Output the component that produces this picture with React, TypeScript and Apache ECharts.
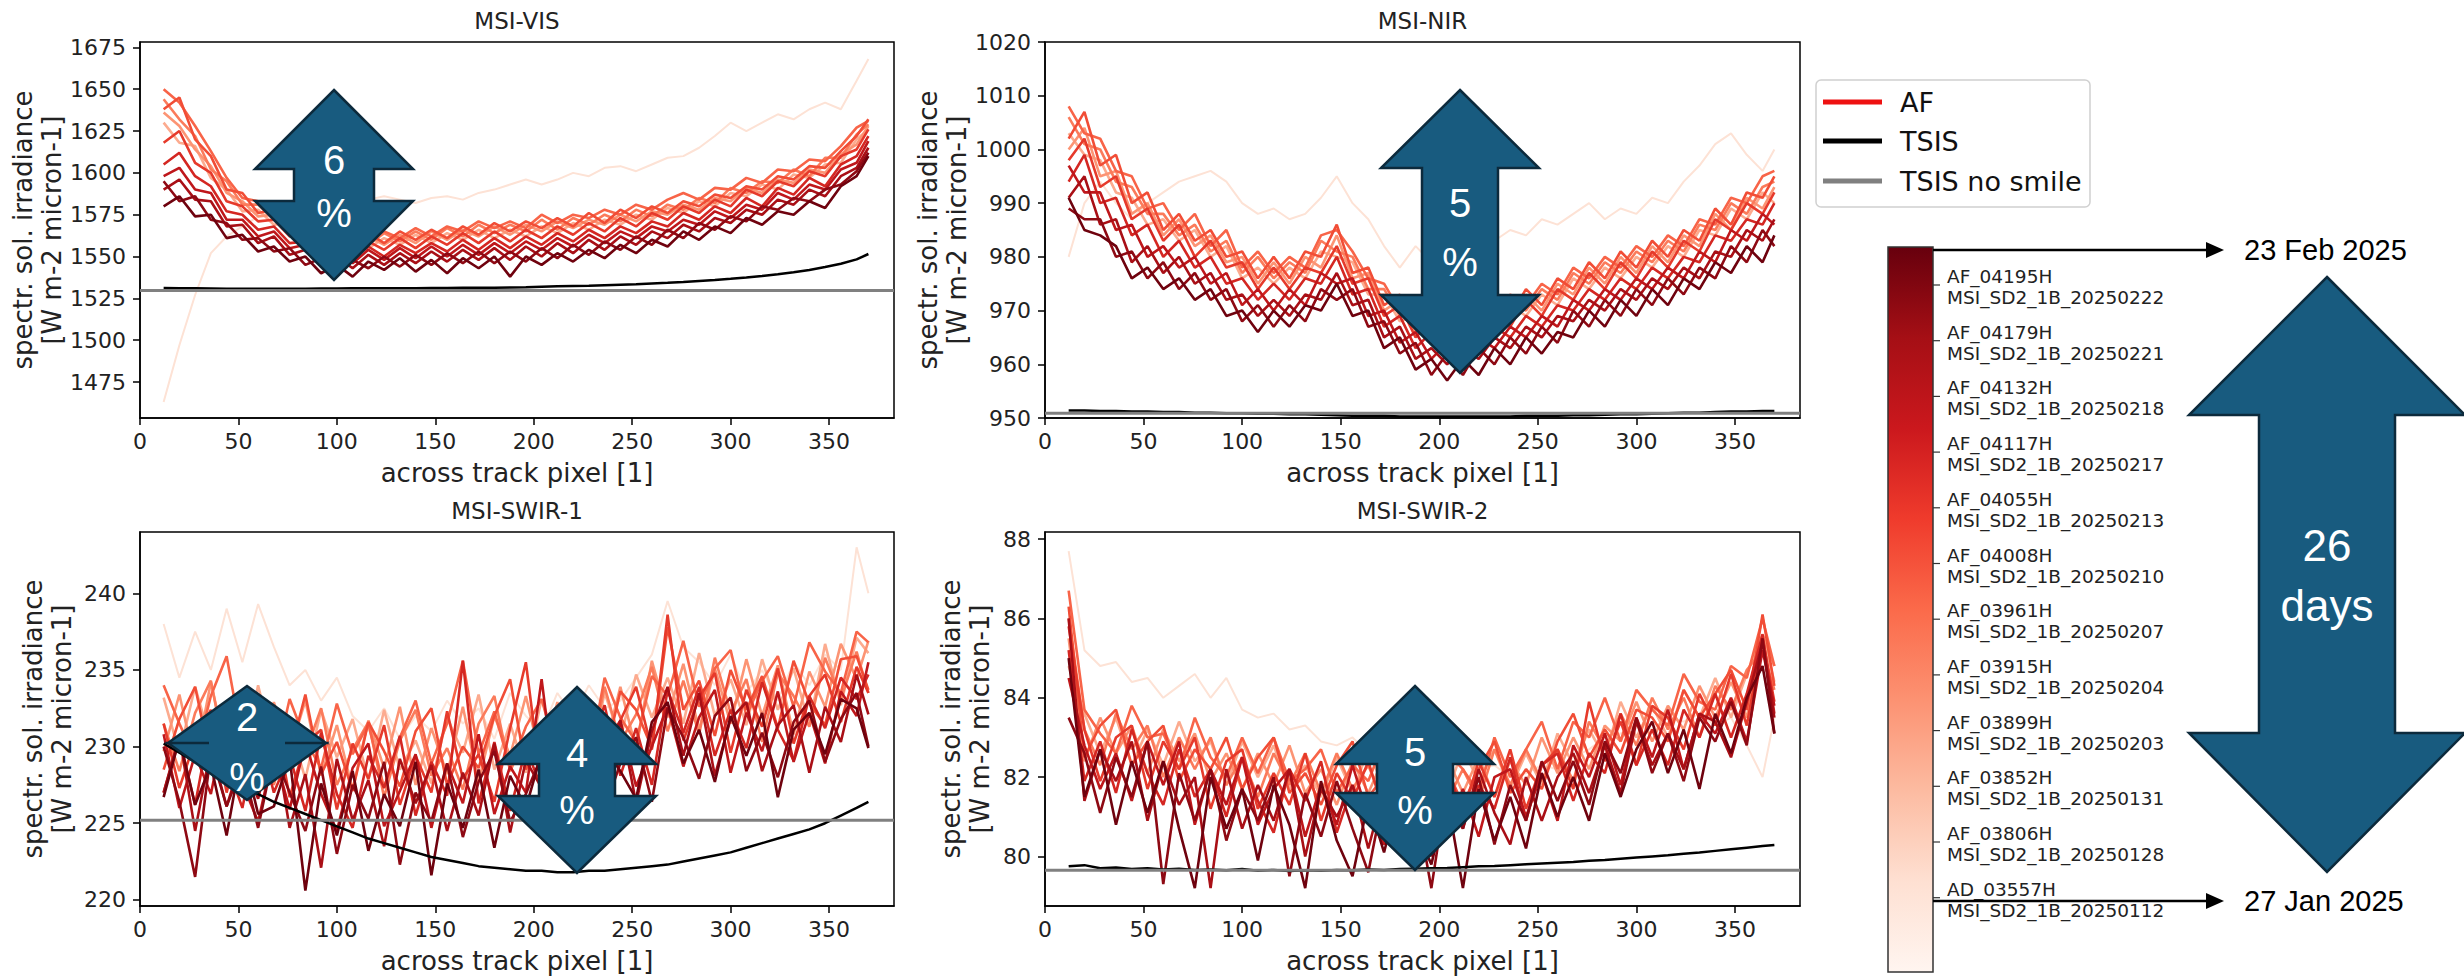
import React, { useEffect, useRef } from "react";
import * as echarts from "echarts";

// ---------------- data ----------------
const X_PIXELS = [12,20,28,36,44,52,60,68,76,84,92,100,108,116,124,132,140,148,156,164,172,180,188,196,204,212,220,228,236,244,252,260,268,276,284,292,300,308,316,324,332,340,348,356,364,370];
const X_TICKS = [0,50,100,150,200,250,300,350];

const RUN_IDS = ["AD_03557H","AF_03806H","AF_03852H","AF_03899H","AF_03915H","AF_03961H","AF_04008H","AF_04055H","AF_04117H","AF_04132H","AF_04179H","AF_04195H"];
const RUN_FILES = ["MSI_SD2_1B_20250112","MSI_SD2_1B_20250128","MSI_SD2_1B_20250131","MSI_SD2_1B_20250203","MSI_SD2_1B_20250204","MSI_SD2_1B_20250207","MSI_SD2_1B_20250210","MSI_SD2_1B_20250213","MSI_SD2_1B_20250217","MSI_SD2_1B_20250218","MSI_SD2_1B_20250221","MSI_SD2_1B_20250222"];
const RUN_COLORS = ["#fde2d5","#fcab8f","#fc9474","#fb7b5b","#f86448","#f14d36","#e63a2b","#d42722","#bf171b","#a90f16","#8e0913","#6f020e"];

// MSI-VIS
const VIS_Y_TICKS = [1475,1500,1525,1550,1575,1600,1625,1650,1675];
const VIS_AF = [
  [1463,1497,1527,1552,1562,1568,1574,1578,1582,1584,1586,1587,1585,1584,1586,1584,1582,1585,1586,1584,1588,1590,1593,1596,1593,1596,1600,1598,1603,1604,1601,1605,1609,1610,1615,1622,1630,1625,1630,1635,1632,1638,1642,1638,1655,1668],
  [1630,1618,1616,1597,1590,1577,1578,1569,1570,1560,1562,1554,1559,1555,1561,1557,1563,1558,1564,1560,1566,1561,1566,1562,1568,1564,1570,1566,1572,1569,1575,1572,1579,1576,1583,1580,1588,1586,1593,1590,1599,1597,1605,1606,1620,1626],
  [1636,1628,1614,1604,1588,1583,1574,1575,1566,1566,1558,1561,1555,1562,1557,1563,1558,1565,1560,1566,1562,1568,1563,1569,1565,1571,1567,1572,1569,1575,1571,1577,1575,1581,1578,1585,1583,1591,1588,1596,1594,1602,1600,1611,1617,1628],
  [1644,1632,1622,1602,1595,1581,1581,1572,1572,1562,1565,1557,1562,1557,1564,1559,1565,1560,1567,1562,1569,1564,1569,1565,1572,1566,1573,1569,1575,1571,1578,1574,1581,1578,1585,1582,1591,1588,1595,1594,1602,1598,1609,1609,1623,1629],
  [1650,1642,1628,1613,1597,1585,1583,1574,1575,1566,1566,1559,1564,1560,1565,1561,1567,1562,1568,1565,1571,1567,1571,1567,1575,1570,1575,1573,1578,1575,1581,1578,1584,1588,1584,1591,1590,1597,1594,1602,1601,1608,1607,1616,1627,1631],
  [1638,1645,1620,1610,1590,1588,1576,1578,1568,1568,1560,1563,1556,1564,1558,1565,1560,1566,1561,1568,1563,1570,1565,1571,1567,1573,1568,1576,1570,1578,1573,1580,1576,1583,1580,1587,1585,1592,1590,1598,1596,1604,1603,1613,1622,1632],
  [1618,1625,1606,1600,1583,1580,1571,1572,1562,1563,1555,1559,1552,1559,1554,1561,1555,1562,1557,1564,1558,1565,1559,1566,1561,1568,1563,1570,1565,1573,1568,1576,1572,1580,1576,1584,1580,1590,1586,1595,1592,1601,1598,1610,1614,1626],
  [1605,1612,1598,1592,1577,1575,1566,1568,1558,1559,1550,1555,1548,1556,1550,1557,1552,1558,1553,1560,1554,1561,1555,1562,1557,1564,1559,1566,1561,1568,1564,1571,1568,1576,1572,1580,1576,1585,1580,1591,1587,1597,1592,1605,1610,1622],
  [1598,1603,1590,1588,1572,1572,1562,1565,1555,1557,1547,1553,1546,1554,1548,1555,1549,1556,1550,1557,1551,1558,1552,1559,1554,1561,1556,1563,1558,1565,1561,1568,1565,1572,1569,1577,1573,1581,1578,1588,1584,1593,1590,1602,1606,1619],
  [1590,1596,1584,1583,1568,1569,1558,1562,1551,1554,1544,1550,1543,1551,1545,1552,1546,1553,1547,1554,1548,1555,1548,1556,1550,1558,1552,1560,1554,1562,1557,1565,1561,1569,1565,1573,1570,1578,1575,1584,1581,1590,1586,1598,1603,1615],
  [1595,1583,1586,1572,1570,1560,1561,1553,1555,1545,1549,1541,1548,1543,1550,1544,1551,1545,1552,1546,1553,1546,1553,1547,1555,1549,1557,1551,1559,1554,1562,1557,1566,1561,1570,1566,1574,1571,1580,1578,1585,1583,1590,1593,1601,1612],
  [1580,1586,1574,1575,1561,1563,1553,1556,1547,1550,1540,1545,1538,1547,1542,1549,1541,1548,1540,1549,1543,1550,1538,1550,1545,1552,1547,1554,1549,1557,1552,1560,1556,1565,1560,1568,1564,1573,1569,1577,1575,1583,1579,1592,1598,1610]
];
const VIS_TSIS = [1531.2,1531.1,1531.0,1530.9,1530.8,1530.8,1530.8,1530.8,1530.8,1530.8,1530.9,1530.9,1531.0,1531.0,1531.0,1531.1,1531.1,1531.2,1531.2,1531.3,1531.3,1531.4,1531.5,1531.7,1532.0,1532.2,1532.4,1532.6,1532.9,1533.2,1533.5,1533.9,1534.3,1534.8,1535.4,1536.0,1536.7,1537.5,1538.4,1539.4,1540.6,1542.0,1543.7,1545.7,1548.3,1551.5];
const VIS_NO_SMILE = 1529.7;

// MSI-NIR
const NIR_Y_TICKS = [950,960,970,980,990,1000,1010,1020];
const NIR_AF = [
  [980,990,994,990,987,990,992,994,995,996,994,990,988,989,987,988,991,995,990,987,982,978,982,979,977,975,976,983,985,984,987,986,988,990,987,989,988,991,990,994,997,1001,1003,999,996,1000],
  [1003,999,998,992,991,986,987,983,985,980,982,976,978,975,978,976,981,980,979,973,973,968,969,965,968,965,969,967,971,969,973,971,976,974,978,976,980,978,982,980,985,984,989,987,992,990],
  [1000,1004,995,996,988,990,984,987,982,984,979,980,975,979,975,980,978,984,976,977,970,972,966,969,965,969,966,971,968,973,970,975,973,978,975,980,977,982,979,984,982,988,985,991,989,993],
  [1006,1001,1000,994,993,988,988,984,986,981,983,977,980,976,979,977,983,981,980,974,974,969,970,966,969,966,970,968,972,970,974,972,977,975,979,977,981,979,983,981,986,985,990,988,993,994],
  [1008,1003,1002,996,995,989,990,985,988,982,985,978,981,977,980,978,984,985,981,976,975,970,971,967,970,967,971,969,973,971,975,973,978,976,980,978,982,980,984,982,987,986,991,990,995,996],
  [1002,1007,997,999,990,992,985,988,983,985,980,981,976,980,976,981,980,986,977,978,971,973,967,970,966,970,967,972,969,974,971,976,974,979,976,981,978,983,980,985,983,989,986,992,991,995],
  [998,1002,993,995,987,989,983,986,980,983,978,979,974,978,974,978,977,982,975,976,969,971,965,968,964,968,965,970,967,972,969,974,972,977,974,979,976,981,978,983,981,987,985,990,988,992],
  [994,999,990,991,984,986,980,983,978,980,975,976,972,975,972,976,975,980,973,974,967,969,963,966,962,966,963,967,965,969,967,971,970,974,972,976,974,978,976,980,979,984,983,987,986,990],
  [997,992,992,985,986,980,982,978,980,975,977,971,974,970,974,971,977,975,976,969,970,964,966,961,964,961,965,963,967,965,969,967,972,970,974,972,976,974,978,976,981,979,985,983,988,986],
  [991,995,986,987,979,982,977,980,975,977,972,973,969,972,969,973,972,977,971,972,965,967,961,963,960,963,961,965,963,967,965,969,968,972,970,974,972,976,974,978,976,981,980,985,983,987],
  [989,987,987,980,981,976,979,974,977,972,974,968,971,967,971,968,974,972,974,967,968,962,964,958,962,958,963,960,965,962,967,964,970,967,972,969,974,971,976,973,978,976,982,979,985,982],
  [991,985,984,982,976,978,974,976,972,974,969,970,966,970,967,971,970,975,969,970,963,965,959,961,957,961,958,963,960,965,962,966,965,970,967,972,969,974,971,976,974,979,977,982,979,984]
];
const NIR_TSIS = [951.4,951.4,951.3,951.3,951.2,951.2,951.1,951.1,951.0,951.0,950.9,950.9,950.8,950.8,950.7,950.7,950.6,950.5,950.4,950.4,950.4,950.3,950.3,950.3,950.3,950.3,950.3,950.3,950.3,950.4,950.4,950.4,950.5,950.5,950.6,950.7,950.7,950.8,950.9,951.0,951.0,951.1,951.2,951.2,951.3,951.3];
const NIR_NO_SMILE = 950.9;

// MSI-SWIR-1
const SWIR1_Y_TICKS = [220,225,230,235,240];
const SWIR1_AF = [
  [238.0,234.5,237.5,235.0,239.0,235.5,239.3,236.5,234.0,235.0,233.0,234.5,232.0,231.0,232.5,230.5,232.0,231.0,233.0,231.5,232.5,230.5,233.5,232.0,231.0,233.5,232.0,234.0,232.5,233.0,234.5,236.0,239.5,236.5,235.5,234.0,236.0,233.5,235.0,233.0,235.5,234.0,236.0,235.0,243.0,240.0],
  [233.2,229.6,233.9,230.3,232.9,228.9,234.0,229.7,231.4,227.9,232.4,229.3,231.8,227.8,232.4,228.5,230.4,227.6,231.9,229.6,233.4,228.5,231.5,228.3,233.1,230.1,232.6,228.7,233.5,230.5,234.7,231.9,234.5,231.5,236.1,232.0,234.4,231.4,235.7,232.4,235.1,231.4,236.7,232.7,237.1,236.1],
  [229.7,233.4,228.9,234.2,229.6,232.8,228.2,232.9,229.6,233.0,228.1,231.4,227.2,231.7,228.6,232.6,227.5,231.2,228.2,232.6,227.7,232.0,229.4,233.3,228.9,232.9,228.1,232.2,229.8,233.9,229.8,235.6,231.9,235.4,231.1,235.1,231.5,235.7,232.0,235.3,230.8,234.9,232.6,236.7,234.4,236.9],
  [231.5,228.4,232.2,234.3,229.0,231.3,233.0,227.5,231.4,229.6,232.5,227.5,229.8,231.6,226.7,230.4,232.4,228.1,229.9,227.2,231.5,233.3,228.4,230.6,228.1,232.5,231.4,228.9,233.9,230.3,232.1,235.2,231.0,234.3,230.8,235.8,232.2,234.4,230.3,234.8,233.3,231.3,235.8,233.1,236.2,233.5],
  [234.0,231.5,229.2,233.3,235.9,230.2,232.3,228.6,233.1,230.4,228.6,232.8,229.5,231.5,227.3,230.6,233.0,228.9,231.5,235.6,229.5,232.3,228.6,231.3,233.1,229.4,232.1,229.0,234.5,231.9,230.3,234.6,233.3,236.9,232.6,235.1,236.3,232.0,234.3,235.9,232.6,236.8,234.9,233.5,237.5,236.8],
  [228.5,231.8,233.9,229.0,231.3,233.4,228.1,231.3,229.4,233.4,228.2,230.3,227.1,231.6,229.7,227.4,231.0,232.5,227.5,230.0,228.6,232.0,234.4,228.5,230.9,227.9,232.4,230.8,229.2,233.6,232.4,229.9,237.8,232.4,234.3,230.7,235.0,232.4,234.6,231.2,235.6,232.8,231.4,235.7,235.9,233.7],
  [231.5,227.3,230.4,232.4,227.0,231.2,229.4,232.3,226.7,230.2,231.1,225.9,230.2,227.9,231.4,226.2,229.4,227.0,232.3,227.9,229.5,226.4,231.2,235.5,227.4,230.3,228.4,232.6,227.7,231.7,233.9,229.8,238.6,230.4,233.2,234.8,229.6,233.7,231.3,235.1,230.2,233.3,234.7,231.6,235.2,233.5],
  [227.0,230.5,226.2,231.7,228.9,226.0,231.0,227.0,229.4,225.8,230.9,226.9,224.7,229.4,227.3,230.7,225.5,229.0,226.8,235.6,226.3,230.3,225.8,229.9,227.3,231.9,226.6,229.9,232.7,228.1,231.2,227.5,233.7,230.9,233.9,229.4,232.4,229.9,234.2,231.1,229.1,233.3,231.2,234.5,233.1,234.7],
  [230.8,226.0,229.5,226.9,232.0,227.6,225.1,229.7,225.9,230.3,226.9,224.5,228.6,230.2,224.8,227.1,229.5,224.7,228.9,226.3,230.8,225.6,228.7,227.0,234.4,226.2,230.3,226.2,230.0,231.7,227.4,230.0,232.6,228.7,231.9,233.7,228.3,232.2,229.7,233.6,229.0,232.2,228.9,233.6,232.0,235.5],
  [227.0,230.7,224.5,229.9,226.1,229.4,226.6,230.9,224.7,228.2,222.1,229.2,225.2,227.8,223.5,229.2,226.3,228.8,224.5,228.3,225.5,230.2,224.4,229.1,227.3,231.2,225.9,229.2,227.0,231.7,226.3,231.0,233.9,229.4,233.5,228.1,231.8,232.9,228.4,231.4,232.7,228.3,232.6,230.3,234.7,232.1],
  [230.0,226.4,221.5,229.6,226.1,228.8,224.7,229.6,227.0,224.5,228.7,223.0,227.5,225.3,229.0,222.3,227.0,225.1,228.9,224.1,227.7,229.7,225.1,226.9,229.4,224.4,228.9,230.2,225.9,228.9,230.6,226.4,232.5,230.6,227.9,232.0,233.2,228.4,230.9,228.0,231.6,233.0,229.0,231.8,233.5,230.0],
  [226.7,230.5,226.2,228.8,224.2,229.9,225.6,226.1,229.3,220.6,227.6,224.2,228.4,223.2,226.9,224.8,229.0,221.6,227.6,224.7,228.5,223.4,228.1,226.0,229.6,224.7,228.1,223.7,229.9,228.4,226.6,231.6,232.9,228.9,231.1,227.7,232.0,229.4,232.2,226.7,231.1,232.2,229.5,233.1,232.5,229.9]
];
const SWIR1_TSIS = [230.2,229.6,229.0,228.5,227.9,227.4,226.9,226.4,226.0,225.6,225.2,224.8,224.4,224.0,223.7,223.4,223.1,222.8,222.6,222.4,222.2,222.1,222.0,221.9,221.9,221.8,221.8,221.9,221.9,222.0,222.1,222.2,222.3,222.5,222.7,222.9,223.1,223.4,223.7,224.0,224.3,224.6,225.0,225.5,226.0,226.4];
const SWIR1_NO_SMILE = 225.2;

// MSI-SWIR-2
const SWIR2_Y_TICKS = [80,82,84,86,88];
const SWIR2_AF = [
  [87.7,85.2,84.8,84.9,84.4,84.5,84.0,84.3,84.6,84.0,84.5,83.7,83.5,83.6,83.2,83.3,82.9,82.8,83.0,82.6,82.7,82.5,82.7,82.4,82.3,82.5,82.2,82.3,82.0,82.1,82.3,82.2,82.5,82.7,83.0,83.1,83.3,83.2,83.5,83.4,83.6,83.3,83.5,82.8,82.0,83.5],
  [84.8,83.6,82.6,83.5,82.3,83.2,82.3,83.4,82.4,82.9,81.8,82.9,82.0,82.8,81.7,82.3,81.5,82.5,81.6,82.7,81.7,82.4,81.4,82.3,81.6,82.7,81.9,82.7,81.7,82.6,81.8,83.1,82.3,83.2,82.5,83.9,83.0,83.8,83.0,84.2,83.5,84.5,83.5,84.6,85.6,84.4],
  [85.5,82.4,83.5,82.6,83.3,82.1,83.2,82.4,83.1,81.9,82.6,81.7,82.6,81.8,82.8,81.6,82.2,81.3,82.4,81.6,82.5,81.4,82.2,81.7,82.5,81.6,82.5,81.5,82.4,81.8,83.0,82.1,83.0,82.2,83.3,82.9,83.9,82.9,83.8,83.2,84.3,83.5,84.4,83.5,85.6,84.8],
  [86.0,83.2,82.3,83.6,82.7,83.3,82.0,83.0,82.2,83.0,81.8,82.5,81.5,82.6,81.8,82.6,81.6,82.6,81.7,82.3,81.3,82.4,81.6,82.6,81.4,82.2,81.4,82.7,81.8,82.7,81.9,82.7,81.9,83.4,82.7,83.6,82.8,84.0,83.2,84.0,83.0,84.3,83.7,84.7,85.2,84.2],
  [86.7,83.7,83.1,82.6,83.8,83.0,83.1,82.2,83.5,82.5,82.0,83.0,82.1,83.0,81.9,82.2,82.7,81.6,82.3,81.9,82.9,81.7,82.5,81.8,82.6,82.2,81.6,83.0,82.0,82.7,83.4,82.2,83.4,83.0,84.0,82.9,84.2,83.7,83.3,84.6,83.9,83.7,84.8,84.5,86.0,84.8],
  [86.3,82.5,83.3,83.7,82.3,82.9,83.3,81.9,82.7,82.2,83.0,81.7,82.5,83.0,81.6,82.1,81.3,82.3,82.9,81.5,82.0,81.3,82.5,81.6,82.2,81.3,82.2,82.9,81.6,82.2,81.7,82.9,83.6,82.5,83.2,82.6,83.7,83.5,82.9,84.2,83.5,84.1,84.7,83.7,86.1,84.3],
  [85.8,83.2,81.9,83.0,83.3,81.7,82.9,82.2,83.0,81.2,82.4,82.7,81.2,82.1,81.3,82.6,80.9,82.1,81.4,82.4,81.1,81.8,80.7,82.2,82.0,81.1,82.4,81.5,82.7,81.2,82.3,82.7,81.7,83.9,82.4,83.4,82.3,83.8,83.5,82.7,84.1,83.3,84.6,83.3,85.5,83.9],
  [85.2,81.9,82.9,81.6,83.2,82.1,81.3,82.7,81.5,82.2,81.0,82.5,81.4,80.6,82.2,81.4,82.4,80.6,81.8,80.9,82.2,80.5,81.9,81.2,82.4,80.9,81.8,81.2,82.5,80.9,82.3,82.6,81.4,82.6,82.1,83.6,82.3,83.2,82.3,83.7,83.0,84.1,83.0,84.1,85.6,83.6],
  [84.5,82.8,81.7,82.6,81.4,82.9,81.8,82.9,80.8,82.2,81.3,82.5,80.8,81.7,82.2,80.5,81.8,80.8,82.3,81.0,80.3,81.9,81.1,82.1,80.6,81.7,80.5,82.0,82.2,81.0,82.1,80.9,82.8,82.0,83.1,81.8,83.5,82.5,83.7,82.2,83.6,83.1,84.0,82.9,85.2,83.8],
  [86.0,81.4,82.7,81.9,82.9,80.9,82.4,81.3,82.0,79.2,82.2,80.7,81.8,80.9,82.2,80.0,81.7,81.0,81.8,80.2,81.7,80.8,81.9,80.0,81.4,80.7,82.2,81.1,80.3,82.0,80.9,82.0,82.6,81.6,82.8,81.6,83.4,82.3,83.1,82.2,83.6,83.4,82.5,83.9,85.4,83.5],
  [83.5,82.6,81.1,82.5,81.5,82.9,79.3,82.1,80.9,82.2,80.4,81.7,80.9,82.0,79.5,81.6,80.5,81.9,80.7,79.6,81.6,80.2,81.4,79.2,81.8,80.7,82.0,80.3,81.8,80.9,82.4,81.4,82.4,81.3,82.9,82.1,83.5,82.1,83.1,81.9,83.5,82.9,83.9,82.8,85.5,83.1],
  [85.0,81.5,82.7,80.8,82.4,81.1,82.4,80.7,79.2,82.0,80.7,81.7,79.9,81.8,80.8,79.2,81.9,80.4,79.5,81.4,80.1,81.7,80.7,79.8,81.5,79.2,81.7,80.4,81.5,80.2,82.1,81.0,82.0,80.9,82.6,81.5,82.7,83.4,82.1,83.2,81.7,83.6,82.6,84.0,84.8,83.1]
];
const SWIR2_TSIS = [79.75,79.78,79.70,79.72,79.68,79.70,79.67,79.69,79.66,79.67,79.65,79.68,79.64,79.66,79.63,79.65,79.64,79.66,79.65,79.67,79.66,79.68,79.69,79.70,79.71,79.73,79.75,79.76,79.78,79.80,79.82,79.84,79.86,79.89,79.91,79.94,79.97,80.00,80.03,80.07,80.10,80.14,80.18,80.22,80.26,80.29];
const SWIR2_NO_SMILE = 79.65;

const LEGEND_LABELS = ["AF", "TSIS", "TSIS no smile"];
const CHANGE_LABELS = ["6\n%", "5\n%", "2\n%", "4\n%", "5\n%"];
const DATE_START = "27 Jan 2025";
const DATE_END = "23 Feb 2025";
const SPAN_LABEL = "26\ndays";

// ---------------- layout ----------------
const X_MAX = 383;
const FONT = "DejaVu Sans";
const TXT = "#222";
const ARROW_FILL = "#185b7f";
const ARROW_EDGE = "#0c2a3c";

const PANELS = [
  { title: "MSI-VIS", af: VIS_AF, tsis: VIS_TSIS, flat: VIS_NO_SMILE, yMin: 1453.5, yMax: 1678.2, yTicks: VIS_Y_TICKS, left: 140, top: 42, width: 754, nameGap: 64 },
  { title: "MSI-NIR", af: NIR_AF, tsis: NIR_TSIS, flat: NIR_NO_SMILE, yMin: 950, yMax: 1020, yTicks: NIR_Y_TICKS, left: 1045, top: 42, width: 755, nameGap: 73 },
  { title: "MSI-SWIR-1", af: SWIR1_AF, tsis: SWIR1_TSIS, flat: SWIR1_NO_SMILE, yMin: 219.6, yMax: 244.0, yTicks: SWIR1_Y_TICKS, left: 140, top: 532, width: 754, nameGap: 64 },
  { title: "MSI-SWIR-2", af: SWIR2_AF, tsis: SWIR2_TSIS, flat: SWIR2_NO_SMILE, yMin: 78.75, yMax: 88.18, yTicks: SWIR2_Y_TICKS, left: 1045, top: 532, width: 755, nameGap: 51 },
];
const PANEL_H = 376;

function dblArrow(cx: number, top: number, hb1: number, hb2: number, bot: number, hw: number, sw: number) {
  return [[cx, top], [cx + hw, hb1], [cx + sw, hb1], [cx + sw, hb2], [cx + hw, hb2], [cx, bot], [cx - hw, hb2], [cx - sw, hb2], [cx - sw, hb1], [cx - hw, hb1]];
}

const plain = (v: number) => String(v);

function buildOption() {
  const grid: any[] = [];
  const xAxis: any[] = [];
  const yAxis: any[] = [];
  const series: any[] = [];
  const graphic: any[] = [];

  PANELS.forEach((p, i) => {
    grid.push({ left: p.left, top: p.top, width: p.width, height: PANEL_H, show: true, borderColor: "#000", borderWidth: 1.5, containLabel: false });
    xAxis.push({
      type: "value", gridIndex: i, min: 0, max: X_MAX,
      axisLine: { show: true, onZero: false, lineStyle: { color: "#000", width: 1.5 } },
      axisTick: { show: true, length: 7, customValues: X_TICKS, lineStyle: { color: "#000", width: 1.5 } },
      axisLabel: { customValues: X_TICKS, formatter: plain, fontSize: 22, color: TXT, margin: 12, fontFamily: FONT },
      splitLine: { show: false },
      name: "across track pixel [1]", nameLocation: "middle", nameGap: 40,
      nameTextStyle: { fontSize: 26, color: TXT, fontFamily: FONT, lineHeight: 30 },
    });
    yAxis.push({
      type: "value", gridIndex: i, min: p.yMin, max: p.yMax,
      axisLine: { show: true, onZero: false, lineStyle: { color: "#000", width: 1.5 } },
      axisTick: { show: true, length: 7, customValues: p.yTicks, lineStyle: { color: "#000", width: 1.5 } },
      axisLabel: { customValues: p.yTicks, formatter: plain, fontSize: 22, color: TXT, margin: 14, fontFamily: FONT },
      splitLine: { show: false },
      name: "spectr. sol. irradiance\n[W m-2 micron-1]", nameLocation: "middle", nameRotate: 90, nameGap: p.nameGap,
      nameTextStyle: { fontSize: 26, color: TXT, fontFamily: FONT, lineHeight: 29 },
    });
    p.af.forEach((vals, k) => {
      series.push({
        type: "line", name: RUN_IDS[k], xAxisIndex: i, yAxisIndex: i,
        data: X_PIXELS.map((x, j) => [x, vals[j]]),
        showSymbol: false, symbol: "none", silent: true,
        lineStyle: { color: RUN_COLORS[k], width: k === 0 ? 2 : 2.6 }, itemStyle: { color: RUN_COLORS[k] },
      });
    });
    series.push({
      type: "line", name: "TSIS", xAxisIndex: i, yAxisIndex: i,
      data: X_PIXELS.map((x, j) => [x, p.tsis[j]]),
      showSymbol: false, symbol: "none", silent: true,
      lineStyle: { color: "#000", width: 2.5 }, itemStyle: { color: "#000" },
    });
    series.push({
      type: "line", name: "TSIS no smile", xAxisIndex: i, yAxisIndex: i,
      data: [[0, p.flat], [X_MAX, p.flat]],
      showSymbol: false, symbol: "none", silent: true,
      lineStyle: { color: "#808080", width: 3 }, itemStyle: { color: "#808080" },
    });
    graphic.push({
      type: "text", x: p.left + p.width / 2, y: p.top - 21, z: 50,
      style: { text: p.title, fontSize: 23, fontFamily: FONT, fill: TXT, align: "center", verticalAlign: "middle", textAlign: "center", textVerticalAlign: "middle" },
    });
  });

  // legend box
  graphic.push({ type: "rect", shape: { x: 1816, y: 80, width: 274, height: 127, r: 5 }, style: { fill: "#fff", stroke: "#d0d0d0", lineWidth: 1.5 }, z: 50 });
  const legColors = ["#ee1111", "#000000", "#808080"];
  const legY = [102, 141, 181];
  LEGEND_LABELS.forEach((lab, i) => {
    graphic.push({ type: "line", shape: { x1: 1823, y1: legY[i], x2: 1882, y2: legY[i] }, style: { stroke: legColors[i], lineWidth: 5 }, z: 51 });
    graphic.push({ type: "text", x: 1900, y: legY[i], z: 51, style: { text: lab, fontSize: 27, fontFamily: FONT, fill: "#111", align: "left", verticalAlign: "middle", textAlign: "left", textVerticalAlign: "middle" } });
  });

  // colorbar
  graphic.push({
    type: "rect", shape: { x: 1888, y: 247, width: 45, height: 725 }, z: 50,
    style: {
      stroke: "#333", lineWidth: 1.5,
      fill: new echarts.graphic.LinearGradient(0, 0, 0, 1, [
        { offset: 0, color: "#67000d" }, { offset: 0.125, color: "#a50f15" }, { offset: 0.25, color: "#cb181d" },
        { offset: 0.375, color: "#ef3b2c" }, { offset: 0.5, color: "#fb6a4a" }, { offset: 0.625, color: "#fc9272" },
        { offset: 0.75, color: "#fcbba1" }, { offset: 0.875, color: "#fee0d2" }, { offset: 1, color: "#fff5f0" },
      ]),
    },
  });
  RUN_IDS.forEach((id, i) => {
    const ty = 285 + 55.7 * (RUN_IDS.length - 1 - i);
    graphic.push({ type: "line", shape: { x1: 1933, y1: ty, x2: 1940, y2: ty }, style: { stroke: "#333", lineWidth: 1.2 }, z: 51 });
    graphic.push({ type: "text", x: 1947, y: ty + 2, z: 51, style: { text: id + "\n" + RUN_FILES[i], fontSize: 18.5, lineHeight: 21, fontFamily: FONT, fill: TXT, align: "left", verticalAlign: "middle", textAlign: "left", textVerticalAlign: "middle" } });
  });

  // date pointers
  const dateFont = "'Liberation Sans Narrow', 'Liberation Sans', sans-serif";
  [[250, DATE_END], [901, DATE_START]].forEach(([y, lab]: any) => {
    graphic.push({ type: "line", shape: { x1: 1933, y1: y, x2: 2210, y2: y }, style: { stroke: "#000", lineWidth: 2.5 }, z: 60 });
    graphic.push({ type: "polygon", shape: { points: [[2206, y - 8], [2224, y], [2206, y + 8]] }, style: { fill: "#000" }, z: 60 });
    graphic.push({ type: "text", x: 2244, y: y, z: 60, style: { text: lab, fontSize: 29, fontFamily: dateFont, fill: "#000", align: "left", verticalAlign: "middle", textAlign: "left", textVerticalAlign: "middle" } });
  });

  // blue double arrows
  const arrows = [
    { pts: dblArrow(334, 90, 169, 201, 280, 79, 40), tx: 334, ty: [160, 213], lab: CHANGE_LABELS[0], fs: 40 },
    { pts: dblArrow(1460, 90, 168, 295, 373, 79, 38), tx: 1460, ty: [203, 262], lab: CHANGE_LABELS[1], fs: 40 },
    { pts: dblArrow(247, 686, 743, 743, 800, 79, 38), tx: 247, ty: [717, 777], lab: CHANGE_LABELS[2], fs: 40 },
    { pts: dblArrow(577, 687, 764, 796, 873, 79, 38), tx: 577, ty: [753, 810], lab: CHANGE_LABELS[3], fs: 40 },
    { pts: dblArrow(1415, 686, 764, 793, 870, 79, 38), tx: 1415, ty: [752, 810], lab: CHANGE_LABELS[4], fs: 40 },
    { pts: dblArrow(2327, 277, 415, 733, 872, 138, 68), tx: 2327, ty: [545, 605], lab: SPAN_LABEL, fs: 44 },
  ];
  arrows.forEach((a) => {
    graphic.push({ type: "polygon", shape: { points: a.pts }, style: { fill: ARROW_FILL, stroke: ARROW_EDGE, lineWidth: 2.5, lineJoin: "miter" }, z: 70 });
    const parts = a.lab.split("\n");
    parts.forEach((t, j) => {
      graphic.push({ type: "text", x: a.tx, y: a.ty[j], z: 71, style: { text: t, fontSize: a.fs, fontFamily: "'Liberation Sans', sans-serif", fill: "#fff", align: "center", verticalAlign: "middle", textAlign: "center", textVerticalAlign: "middle" } });
    });
  });

  return { animation: false, backgroundColor: "#fff", grid, xAxis, yAxis, series, graphic };
}

export default function App() {
  const ref = useRef<HTMLDivElement>(null);
  useEffect(() => {
    if (!ref.current) return;
    const chart = echarts.init(ref.current, undefined, { renderer: "svg" });
    chart.setOption(buildOption() as any);
    return () => chart.dispose();
  }, []);
  return <div ref={ref} style={{ position: "fixed", left: 0, top: 0, width: 2464, height: 977, background: "#fff" }} />;
}
